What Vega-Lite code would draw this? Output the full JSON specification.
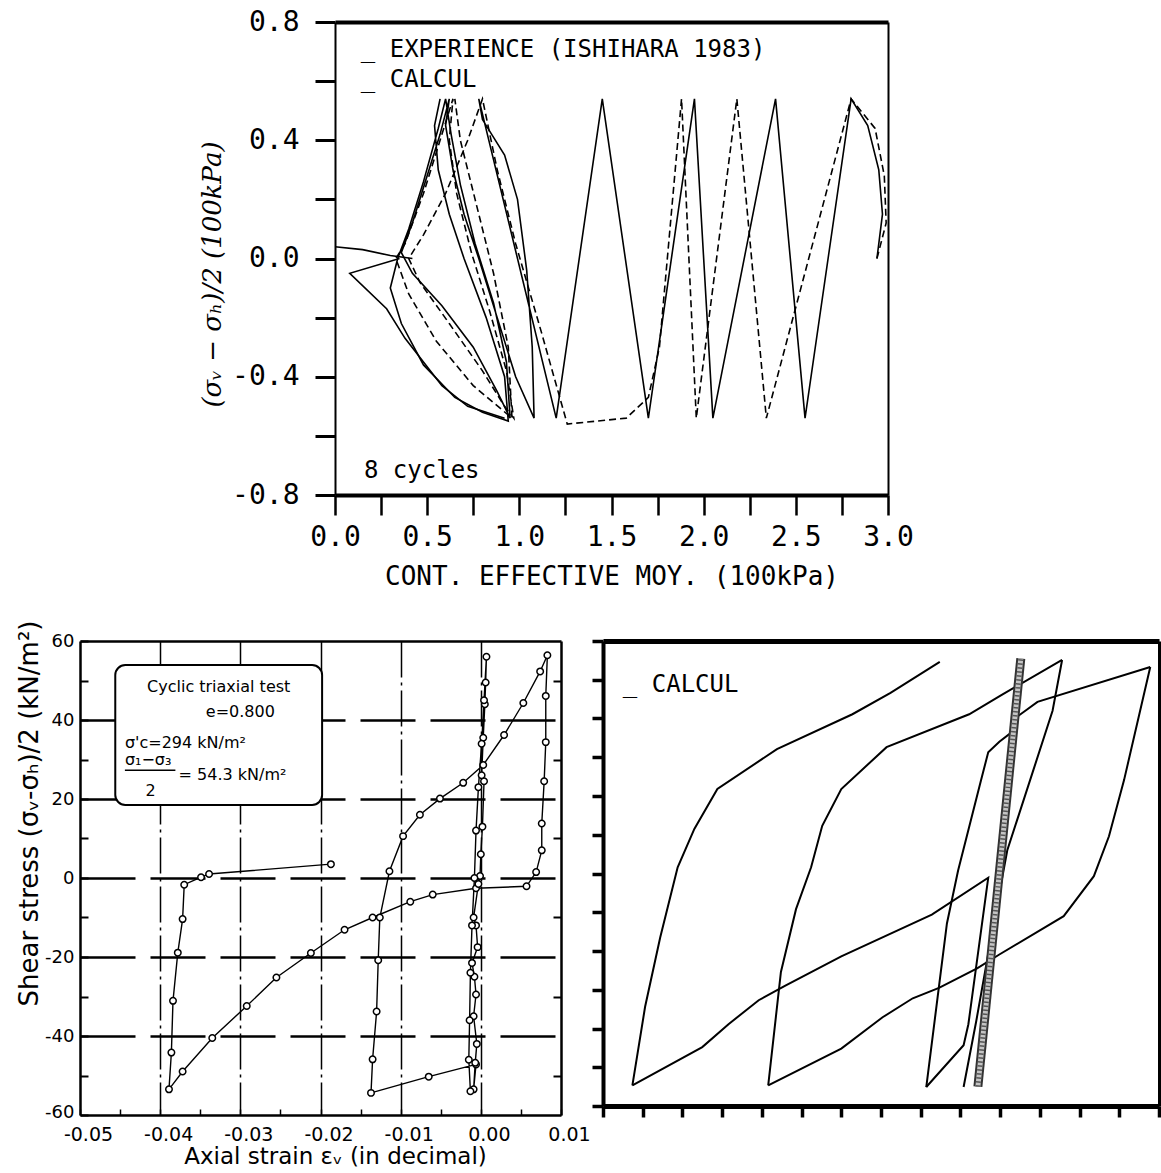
{
  "$schema": "https://vega.github.io/schema/vega-lite/v6.json",
  "background": "white",
  "padding": {"left": 16, "top": 8, "right": 0, "bottom": 0},
  "config": {
    "font": "DejaVu Sans",
    "view": {"stroke": null},
    "axis": {"domainColor": "black", "tickColor": "black", "labelColor": "black", "titleColor": "black", "titleFontWeight": "normal", "grid": false, "labelFlush": false, "labelOverlap": false}
  },
  "datasets": {
    "top": [
      {"s":"e1","t":"exp","o":0,"p":2.94,"q":0},{"s":"e1","t":"exp","o":1,"p":2.97,"q":0.15},{"s":"e1","t":"exp","o":2,"p":2.95,"q":0.30},{"s":"e1","t":"exp","o":3,"p":2.89,"q":0.45},{"s":"e1","t":"exp","o":4,"p":2.80,"q":0.54},
      {"s":"e1","t":"exp","o":5,"p":2.55,"q":-0.54},{"s":"e1","t":"exp","o":6,"p":2.39,"q":0.54},{"s":"e1","t":"exp","o":7,"p":2.05,"q":-0.54},{"s":"e1","t":"exp","o":8,"p":1.95,"q":0.54},{"s":"e1","t":"exp","o":9,"p":1.70,"q":-0.54},
      {"s":"e1","t":"exp","o":10,"p":1.45,"q":0.54},{"s":"e1","t":"exp","o":11,"p":1.20,"q":-0.54},{"s":"e1","t":"exp","o":12,"p":0.78,"q":0.54},{"s":"e1","t":"exp","o":13,"p":0.80,"q":0.47},{"s":"e1","t":"exp","o":14,"p":0.92,"q":0.35},
      {"s":"e1","t":"exp","o":15,"p":0.99,"q":0.20},{"s":"e1","t":"exp","o":16,"p":1.04,"q":-0.04},{"s":"e1","t":"exp","o":17,"p":1.07,"q":-0.30},{"s":"e1","t":"exp","o":18,"p":1.08,"q":-0.54},{"s":"e1","t":"exp","o":19,"p":0.98,"q":-0.40},
      {"s":"e1","t":"exp","o":20,"p":0.88,"q":-0.20},{"s":"e1","t":"exp","o":21,"p":0.78,"q":0.0},{"s":"e1","t":"exp","o":22,"p":0.70,"q":0.15},{"s":"e1","t":"exp","o":23,"p":0.64,"q":0.30},{"s":"e1","t":"exp","o":24,"p":0.60,"q":0.45},
      {"s":"e1","t":"exp","o":25,"p":0.62,"q":0.54},{"s":"e1","t":"exp","o":26,"p":0.57,"q":0.42},{"s":"e1","t":"exp","o":27,"p":0.50,"q":0.28},{"s":"e1","t":"exp","o":28,"p":0.42,"q":0.12},{"s":"e1","t":"exp","o":29,"p":0.36,"q":0.02},
      {"s":"e1","t":"exp","o":30,"p":0.42,"q":-0.05},{"s":"e1","t":"exp","o":31,"p":0.58,"q":-0.16},{"s":"e1","t":"exp","o":32,"p":0.75,"q":-0.30},{"s":"e1","t":"exp","o":33,"p":0.88,"q":-0.45},{"s":"e1","t":"exp","o":34,"p":0.95,"q":-0.54},
      {"s":"e1","t":"exp","o":35,"p":0.93,"q":-0.35},{"s":"e1","t":"exp","o":36,"p":0.86,"q":-0.15},{"s":"e1","t":"exp","o":37,"p":0.76,"q":0.05},{"s":"e1","t":"exp","o":38,"p":0.68,"q":0.25},{"s":"e1","t":"exp","o":39,"p":0.63,"q":0.42},
      {"s":"e1","t":"exp","o":40,"p":0.60,"q":0.54},{"s":"e1","t":"exp","o":41,"p":0.56,"q":0.44},{"s":"e1","t":"exp","o":42,"p":0.48,"q":0.26},{"s":"e1","t":"exp","o":43,"p":0.40,"q":0.10},{"s":"e1","t":"exp","o":44,"p":0.34,"q":0.0},
      {"s":"e1","t":"exp","o":45,"p":0.30,"q":-0.10},{"s":"e1","t":"exp","o":46,"p":0.36,"q":-0.22},{"s":"e1","t":"exp","o":47,"p":0.48,"q":-0.36},{"s":"e1","t":"exp","o":48,"p":0.65,"q":-0.47},{"s":"e1","t":"exp","o":49,"p":0.80,"q":-0.52},
      {"s":"e1","t":"exp","o":50,"p":0.94,"q":-0.55},{"s":"e1","t":"exp","o":51,"p":0.92,"q":-0.40},{"s":"e1","t":"exp","o":52,"p":0.82,"q":-0.20},{"s":"e1","t":"exp","o":53,"p":0.70,"q":0.0},{"s":"e1","t":"exp","o":54,"p":0.62,"q":0.15},
      {"s":"e1","t":"exp","o":55,"p":0.56,"q":0.30},{"s":"e1","t":"exp","o":56,"p":0.54,"q":0.45},{"s":"e1","t":"exp","o":57,"p":0.57,"q":0.54},
      {"s":"e2","t":"exp","o":0,"p":0.35,"q":0.0},{"s":"e2","t":"exp","o":1,"p":0.08,"q":-0.05},{"s":"e2","t":"exp","o":2,"p":0.28,"q":-0.17},{"s":"e2","t":"exp","o":3,"p":0.38,"q":-0.27},{"s":"e2","t":"exp","o":4,"p":0.58,"q":-0.43},{"s":"e2","t":"exp","o":5,"p":0.72,"q":-0.50},{"s":"e2","t":"exp","o":6,"p":0.92,"q":-0.54},
      {"s":"e3","t":"exp","o":0,"p":0.0,"q":0.04},{"s":"e3","t":"exp","o":1,"p":0.15,"q":0.03},{"s":"e3","t":"exp","o":2,"p":0.30,"q":0.01},{"s":"e3","t":"exp","o":3,"p":0.42,"q":0.0},
      {"s":"c1","t":"calc","o":0,"p":2.94,"q":0},{"s":"c1","t":"calc","o":1,"p":2.99,"q":0.12},{"s":"c1","t":"calc","o":2,"p":2.98,"q":0.28},{"s":"c1","t":"calc","o":3,"p":2.93,"q":0.44},{"s":"c1","t":"calc","o":4,"p":2.80,"q":0.54},
      {"s":"c1","t":"calc","o":5,"p":2.34,"q":-0.54},{"s":"c1","t":"calc","o":6,"p":2.18,"q":0.54},{"s":"c1","t":"calc","o":7,"p":1.96,"q":-0.54},{"s":"c1","t":"calc","o":8,"p":1.88,"q":0.54},{"s":"c1","t":"calc","o":9,"p":1.76,"q":-0.30},
      {"s":"c1","t":"calc","o":10,"p":1.70,"q":-0.47},{"s":"c1","t":"calc","o":11,"p":1.58,"q":-0.54},{"s":"c1","t":"calc","o":12,"p":1.26,"q":-0.56},{"s":"c1","t":"calc","o":13,"p":1.12,"q":-0.25},{"s":"c1","t":"calc","o":14,"p":0.98,"q":0.05},
      {"s":"c1","t":"calc","o":15,"p":0.88,"q":0.30},{"s":"c1","t":"calc","o":16,"p":0.80,"q":0.54},{"s":"c1","t":"calc","o":17,"p":0.72,"q":0.40},{"s":"c1","t":"calc","o":18,"p":0.60,"q":0.22},{"s":"c1","t":"calc","o":19,"p":0.48,"q":0.08},
      {"s":"c1","t":"calc","o":20,"p":0.40,"q":0.0},{"s":"c1","t":"calc","o":21,"p":0.46,"q":-0.08},{"s":"c1","t":"calc","o":22,"p":0.62,"q":-0.22},{"s":"c1","t":"calc","o":23,"p":0.80,"q":-0.38},{"s":"c1","t":"calc","o":24,"p":0.92,"q":-0.50},
      {"s":"c1","t":"calc","o":25,"p":0.97,"q":-0.54},{"s":"c1","t":"calc","o":26,"p":0.93,"q":-0.38},{"s":"c1","t":"calc","o":27,"p":0.84,"q":-0.18},{"s":"c1","t":"calc","o":28,"p":0.74,"q":0.02},{"s":"c1","t":"calc","o":29,"p":0.66,"q":0.22},
      {"s":"c1","t":"calc","o":30,"p":0.62,"q":0.40},{"s":"c1","t":"calc","o":31,"p":0.64,"q":0.54},{"s":"c1","t":"calc","o":32,"p":0.58,"q":0.42},{"s":"c1","t":"calc","o":33,"p":0.48,"q":0.22},{"s":"c1","t":"calc","o":34,"p":0.38,"q":0.05},
      {"s":"c1","t":"calc","o":35,"p":0.33,"q":0.0},{"s":"c1","t":"calc","o":36,"p":0.40,"q":-0.12},{"s":"c1","t":"calc","o":37,"p":0.55,"q":-0.28},{"s":"c1","t":"calc","o":38,"p":0.75,"q":-0.43},{"s":"c1","t":"calc","o":39,"p":0.96,"q":-0.54},
      {"s":"c1","t":"calc","o":40,"p":0.94,"q":-0.30},{"s":"c1","t":"calc","o":41,"p":0.86,"q":-0.05},{"s":"c1","t":"calc","o":42,"p":0.76,"q":0.20},{"s":"c1","t":"calc","o":43,"p":0.68,"q":0.40},{"s":"c1","t":"calc","o":44,"p":0.65,"q":0.54}
    ],
    "topText": [
      {"p":0.14,"q":0.681,"label":"_ EXPERIENCE (ISHIHARA 1983)"},
      {"p":0.14,"q":0.580,"label":"_ CALCUL"},
      {"p":0.157,"q":-0.743,"label":"8 cycles"}
    ],
    "bl": [
      {"o":0,"e":-0.0187,"s":3.5},{"o":1,"e":-0.0339,"s":1.0},{"o":2,"e":-0.0349,"s":0.2},{"o":3,"e":-0.0370,"s":-1.7},{"o":4,"e":-0.0372,"s":-10.4},
      {"o":5,"e":-0.0378,"s":-18.9},{"o":6,"e":-0.0384,"s":-31.1},{"o":7,"e":-0.0386,"s":-44.2},{"o":8,"e":-0.0389,"s":-53.5},{"o":9,"e":-0.0372,"s":-49.0},
      {"o":10,"e":-0.0335,"s":-40.5},{"o":11,"e":-0.0292,"s":-32.4},{"o":12,"e":-0.0255,"s":-25.2},{"o":13,"e":-0.0212,"s":-19.0},{"o":14,"e":-0.0170,"s":-13.1},
      {"o":15,"e":-0.0135,"s":-10.0},{"o":16,"e":-0.0088,"s":-6.0},{"o":17,"e":-0.0060,"s":-4.2},{"o":18,"e":-0.0006,"s":-2.6},{"o":19,"e":0.0057,"s":-2.1},
      {"o":20,"e":0.0069,"s":1.5},{"o":21,"e":0.0076,"s":7.0},{"o":22,"e":0.0076,"s":13.8},{"o":23,"e":0.0079,"s":24.5},{"o":24,"e":0.0081,"s":34.4},
      {"o":25,"e":0.0081,"s":46.1},{"o":26,"e":0.0083,"s":56.4},{"o":27,"e":0.0074,"s":52.3},{"o":28,"e":0.0053,"s":44.3},{"o":29,"e":0.0029,"s":36.2},
      {"o":30,"e":0.0003,"s":28.6},{"o":31,"e":-0.0022,"s":24.1},{"o":32,"e":-0.0051,"s":20.1},{"o":33,"e":-0.0076,"s":16.0},{"o":34,"e":-0.0097,"s":10.6},
      {"o":35,"e":-0.0114,"s":1.7},{"o":36,"e":-0.0126,"s":-10.0},{"o":37,"e":-0.0128,"s":-20.8},{"o":38,"e":-0.0130,"s":-33.8},{"o":39,"e":-0.0135,"s":-45.9},
      {"o":40,"e":-0.0137,"s":-54.4},{"o":41,"e":-0.0065,"s":-50.3},{"o":42,"e":-0.0006,"s":-47.2},{"o":43,"e":-0.0009,"s":-53.5},{"o":44,"e":-0.0007,"s":-46.8},
      {"o":45,"e":-0.0005,"s":-42.0},{"o":46,"e":-0.0009,"s":-35.0},{"o":47,"e":-0.0006,"s":-29.5},{"o":48,"e":-0.0008,"s":-25.0},{"o":49,"e":-0.0011,"s":-21.5},
      {"o":50,"e":-0.0004,"s":-17.5},{"o":51,"e":-0.0006,"s":-12.0},{"o":52,"e":-0.0009,"s":-10.0},{"o":53,"e":-0.0003,"s":-1.5},{"o":54,"e":-0.0001,"s":0.5},
      {"o":55,"e":0.0000,"s":6.0},{"o":56,"e":0.0002,"s":13.0},{"o":57,"e":0.0004,"s":24.5},{"o":58,"e":0.0001,"s":26.0},{"o":59,"e":0.0003,"s":35.5},
      {"o":60,"e":0.0005,"s":44.0},{"o":61,"e":0.0006,"s":49.5},{"o":62,"e":0.0007,"s":56.0},{"o":63,"e":0.0004,"s":45.0},{"o":64,"e":0.0001,"s":34.0},
      {"o":65,"e":-0.0003,"s":23.0},{"o":66,"e":-0.0006,"s":12.0},{"o":67,"e":-0.0008,"s":0.0},{"o":68,"e":-0.0011,"s":-12.0},{"o":69,"e":-0.0013,"s":-24.0},
      {"o":70,"e":-0.0014,"s":-36.0},{"o":71,"e":-0.0015,"s":-46.0},{"o":72,"e":-0.0013,"s":-54.0}
    ],
    "blText": [
      {"e":-0.0327,"s":47.0,"label":"Cyclic triaxial test","a":"c"},
      {"e":-0.0300,"s":40.7,"label":"e=0.800","a":"c"},
      {"e":-0.0444,"s":33.0,"label":"σ'c=294 kN/m²","a":"l"},
      {"e":-0.0444,"s":28.6,"label":"σ₁−σ₃","a":"l"},
      {"e":-0.0412,"s":20.8,"label":"2","a":"c"},
      {"e":-0.0377,"s":24.7,"label":"= 54.3 kN/m²","a":"l"}
    ],
    "blBox": [{"e1":-0.0456,"e2":-0.0198,"s1":53.9,"s2":18.5}],
    "blBar": [{"e1":-0.0444,"e2":-0.0381,"s":27.3}],
    "br": [
      {"k":1,"o":0,"e":-0.0463,"s":-54.7},{"k":1,"o":1,"e":-0.0447,"s":-34.4},{"k":1,"o":2,"e":-0.0428,"s":-16.5},{"k":1,"o":3,"e":-0.0406,"s":1.6},{"k":1,"o":4,"e":-0.0385,"s":11.5},
      {"k":1,"o":5,"e":-0.0356,"s":21.8},{"k":1,"o":6,"e":-0.0281,"s":32.1},{"k":1,"o":7,"e":-0.0186,"s":41.1},{"k":1,"o":8,"e":-0.0138,"s":46.6},{"k":1,"o":9,"e":-0.0076,"s":54.6},
      {"k":2,"o":0,"e":-0.0463,"s":-54.7},{"k":2,"o":1,"e":-0.0375,"s":-44.8},{"k":2,"o":2,"e":-0.0342,"s":-38.9},{"k":2,"o":3,"e":-0.0304,"s":-32.7},{"k":2,"o":4,"e":-0.0271,"s":-29.0},
      {"k":2,"o":5,"e":-0.0200,"s":-21.4},{"k":2,"o":6,"e":-0.0086,"s":-10.6},{"k":2,"o":7,"e":-0.0015,"s":-1.1},{"k":2,"o":8,"e":-0.0040,"s":-38.9},{"k":2,"o":9,"e":-0.0046,"s":-44.3},{"k":2,"o":10,"e":-0.0093,"s":-55.1},
      {"k":3,"o":0,"e":-0.0093,"s":-55.1},{"k":3,"o":1,"e":-0.0067,"s":-12.9},{"k":3,"o":2,"e":-0.0053,"s":0.7},{"k":3,"o":3,"e":-0.0024,"s":24.1},{"k":3,"o":4,"e":-0.0015,"s":31.3},
      {"k":3,"o":5,"e":-0.0001,"s":34.0},{"k":3,"o":6,"e":0.0016,"s":36.7},{"k":3,"o":7,"e":0.0023,"s":40.7},{"k":3,"o":8,"e":0.0047,"s":44.3},{"k":3,"o":9,"e":0.0189,"s":53.3},
      {"k":4,"o":0,"e":0.0189,"s":53.3},{"k":4,"o":1,"e":0.0156,"s":24.1},{"k":4,"o":2,"e":0.0137,"s":9.6},{"k":4,"o":3,"e":0.0118,"s":-0.7},{"k":4,"o":4,"e":0.0080,"s":-11.0},
      {"k":4,"o":5,"e":-0.0001,"s":-20.9},{"k":4,"o":6,"e":-0.0029,"s":-24.5},{"k":4,"o":7,"e":-0.0077,"s":-29.5},{"k":4,"o":8,"e":-0.0110,"s":-32.2},{"k":4,"o":9,"e":-0.0148,"s":-37.1},
      {"k":4,"o":10,"e":-0.0200,"s":-45.2},{"k":4,"o":11,"e":-0.0292,"s":-54.7},
      {"k":5,"o":0,"e":-0.0292,"s":-54.7},{"k":5,"o":1,"e":-0.0276,"s":-25.4},{"k":5,"o":2,"e":-0.0257,"s":-9.2},{"k":5,"o":3,"e":-0.0238,"s":1.6},{"k":5,"o":4,"e":-0.0224,"s":12.3},
      {"k":5,"o":5,"e":-0.0200,"s":21.8},{"k":5,"o":6,"e":-0.0143,"s":32.6},{"k":5,"o":7,"e":-0.0039,"s":41.1},{"k":5,"o":8,"e":0.0002,"s":46.1},{"k":5,"o":9,"e":0.0078,"s":55.1},
      {"k":6,"o":0,"e":0.0078,"s":55.1},{"k":6,"o":1,"e":0.0066,"s":42.0},{"k":6,"o":2,"e":0.0042,"s":26.8},{"k":6,"o":3,"e":0.0009,"s":6.0},{"k":6,"o":4,"e":-0.0010,"s":-15.0},
      {"k":6,"o":5,"e":-0.0030,"s":-38.0},{"k":6,"o":6,"e":-0.0046,"s":-55.1}
    ],
    "brBand": [{"o":0,"e":-0.0028,"s":-55.0},{"o":1,"e":0.0026,"s":55.5}],
    "brText": [{"e":-0.0475,"s":46.9,"label":"_ CALCUL"}]
  },
  "spacing": 26,
  "vconcat": [
    {
      "bounds": "flush",
      "spacing": 0,
      "hconcat": [
        {"width": 255, "height": 473, "view": {"fill": "white", "stroke": null}, "data": {"values": []}, "mark": "point"},
        {
          "width": 553,
          "height": 473,
          "layer": [
            {
              "mark": {"type": "rule", "color": "black", "strokeWidth": 2.5},
              "encoding": {"y": {"datum": 0, "type": "quantitative", "scale": {"domain": [-0.8, 0.8], "nice": false, "zero": false}, "axis": null}}
            },
            {
              "data": {"name": "top"},
              "transform": [{"filter": "datum.t == 'exp'"}],
              "mark": {"type": "line", "color": "black", "strokeWidth": 1.6},
              "encoding": {
                "x": {"field": "p", "type": "quantitative", "scale": {"domain": [0, 3], "nice": false, "zero": false},
                  "axis": {"orient": "bottom", "values": [0,0.25,0.5,0.75,1,1.25,1.5,1.75,2,2.25,2.5,2.75,3],
                    "labelExpr": "round(datum.value*4) % 2 == 0 ? format(datum.value, '.1f') : ''",
                    "tickSize": 20, "tickWidth": 2.5, "domainWidth": 4,
                    "labelFont": "DejaVu Sans Mono", "labelFontSize": 28, "labelPadding": 8,
                    "title": "CONT. EFFECTIVE MOY.  (100kPa)", "titleFont": "DejaVu Sans Mono", "titleFontSize": 26, "titlePadding": 12}},
                "y": {"field": "q", "type": "quantitative", "scale": {"domain": [-0.8, 0.8], "nice": false, "zero": false},
                  "axis": {"orient": "left", "values": [-0.8,-0.6,-0.4,-0.2,0,0.2,0.4,0.6,0.8],
                    "labelExpr": "abs(round(datum.value*5)) % 2 == 0 ? (datum.value < -0.01 ? '-' : '') + format(abs(datum.value), '.1f') : ''",
                    "tickSize": 20, "tickWidth": 3, "domainWidth": 2,
                    "labelFont": "DejaVu Sans Mono", "labelFontSize": 28, "labelPadding": 16,
                    "title": "(σᵥ − σₕ)/2     (100kPa)", "titleFont": "DejaVu Serif", "titleFontStyle": "italic", "titleFontSize": 26, "titlePadding": 6, "titleY": 252}},
                "detail": {"field": "s"},
                "order": {"field": "o"}
              }
            },
            {
              "data": {"name": "top"},
              "transform": [{"filter": "datum.t == 'calc'"}],
              "mark": {"type": "line", "color": "black", "strokeWidth": 1.6, "strokeDash": [7, 4]},
              "encoding": {
                "x": {"field": "p", "type": "quantitative", "scale": {"domain": [0, 3], "nice": false, "zero": false}, "axis": null},
                "y": {"field": "q", "type": "quantitative", "scale": {"domain": [-0.8, 0.8], "nice": false, "zero": false}, "axis": null},
                "detail": {"field": "s"},
                "order": {"field": "o"}
              }
            },
            {
              "data": {"name": "topText"},
              "mark": {"type": "text", "font": "DejaVu Sans Mono", "fontSize": 24, "align": "left", "baseline": "alphabetic", "color": "black"},
              "encoding": {
                "x": {"field": "p", "type": "quantitative", "scale": {"domain": [0, 3], "nice": false, "zero": false},
                  "axis": {"orient": "top", "labels": false, "ticks": false, "domainWidth": 4, "title": null}},
                "y": {"field": "q", "type": "quantitative", "scale": {"domain": [-0.8, 0.8], "nice": false, "zero": false},
                  "axis": {"orient": "right", "labels": false, "ticks": false, "domainWidth": 2, "title": null}},
                "text": {"field": "label"}
              }
            }
          ]
        }
      ]
    },
    {
      "bounds": "flush",
      "spacing": 42,
      "hconcat": [
        {
          "width": 481,
          "height": 474,
          "layer": [
            {
              "data": {"name": "blBox"},
              "mark": {"type": "rect", "fill": "white", "stroke": "black", "strokeWidth": 2, "cornerRadius": 10},
              "encoding": {
                "x": {"field": "e1", "type": "quantitative", "scale": {"domain": [-0.05, 0.01], "nice": false, "zero": false}, "axis": null},
                "x2": {"field": "e2"},
                "y": {"field": "s1", "type": "quantitative", "scale": {"domain": [-60, 60], "nice": false, "zero": false}, "axis": null},
                "y2": {"field": "s2"}
              }
            },
            {
              "data": {"name": "bl"},
              "mark": {"type": "line", "color": "black", "strokeWidth": 1.4},
              "encoding": {
                "x": {"field": "e", "type": "quantitative", "scale": {"domain": [-0.05, 0.01], "nice": false, "zero": false},
                  "axis": {"orient": "bottom", "values": [-0.05,-0.045,-0.04,-0.035,-0.03,-0.025,-0.02,-0.015,-0.01,-0.005,0,0.005,0.01],
                    "labelExpr": "abs(round(datum.value*200)) % 2 == 0 ? (datum.value < -0.0001 ? '-' : '') + format(abs(datum.value), '.2f') : ''",
                    "tickSize": -6, "tickWidth": 1.5, "domainWidth": 2.5,
                    "grid": true, "gridColor": "black", "gridWidth": 1.5, "gridDash": [36, 5, 3, 5],
                    "gridOpacity": {"condition": {"test": "abs(round(datum.value*200)) % 2 == 0 && datum.value > -0.049 && datum.value < 0.009", "value": 1}, "value": 0},
                    "labelFontSize": 19, "labelPadding": 16, "labelOffset": 8,
                    "title": "Axial strain    εᵥ  (in decimal)", "titleFontSize": 23, "titlePadding": 1, "titleX": 255}},
                "y": {"field": "s", "type": "quantitative", "scale": {"domain": [-60, 60], "nice": false, "zero": false},
                  "axis": {"orient": "left", "values": [-60,-50,-40,-30,-20,-10,0,10,20,30,40,50,60],
                    "labelExpr": "abs(datum.value) % 20 == 0 ? (datum.value < 0 ? '-' : '') + abs(datum.value) : ''",
                    "labelOffset": {"condition": {"test": "datum.value == -60", "value": -3}, "value": 0},
                    "tickSize": -8, "tickWidth": 2, "domainWidth": 2.5,
                    "grid": true, "gridColor": "black", "gridWidth": 2.5, "gridDash": [55, 15],
                    "gridOpacity": {"condition": {"test": "abs(datum.value) % 20 == 0 && abs(datum.value) < 60", "value": 1}, "value": 0},
                    "labelFontSize": 18, "labelPadding": 14,
                    "title": "Shear stress (σᵥ-σₕ)/2  (kN/m²)", "titleFontSize": 26, "titlePadding": 2, "titleY": 172}},
                "order": {"field": "o"}
              }
            },
            {
              "data": {"name": "bl"},
              "mark": {"type": "point", "shape": "circle", "filled": true, "fill": "white", "stroke": "black", "strokeWidth": 1.5, "size": 42, "opacity": 1},
              "encoding": {
                "x": {"field": "e", "type": "quantitative", "scale": {"domain": [-0.05, 0.01], "nice": false, "zero": false},
                  "axis": {"orient": "top", "labels": false, "ticks": false, "domainWidth": 2.5, "title": null}},
                "y": {"field": "s", "type": "quantitative", "scale": {"domain": [-60, 60], "nice": false, "zero": false},
                  "axis": {"orient": "right", "values": [-50,-30,-10,10,30,50], "labels": false, "tickSize": -8, "tickWidth": 2, "domainWidth": 2.5, "title": null}}
              }
            },
            {
              "data": {"name": "blText"},
              "transform": [{"filter": "datum.a == 'c'"}],
              "mark": {"type": "text", "font": "DejaVu Sans", "fontSize": 16, "align": "center", "baseline": "alphabetic", "color": "black"},
              "encoding": {
                "x": {"field": "e", "type": "quantitative", "scale": {"domain": [-0.05, 0.01], "nice": false, "zero": false}, "axis": null},
                "y": {"field": "s", "type": "quantitative", "scale": {"domain": [-60, 60], "nice": false, "zero": false}, "axis": null},
                "text": {"field": "label"}
              }
            },
            {
              "data": {"name": "blText"},
              "transform": [{"filter": "datum.a == 'l'"}],
              "mark": {"type": "text", "font": "DejaVu Sans", "fontSize": 16, "align": "left", "baseline": "alphabetic", "color": "black"},
              "encoding": {
                "x": {"field": "e", "type": "quantitative", "scale": {"domain": [-0.05, 0.01], "nice": false, "zero": false}, "axis": null},
                "y": {"field": "s", "type": "quantitative", "scale": {"domain": [-60, 60], "nice": false, "zero": false}, "axis": null},
                "text": {"field": "label"}
              }
            },
            {
              "data": {"name": "blBar"},
              "mark": {"type": "rule", "color": "black", "strokeWidth": 1.5},
              "encoding": {
                "x": {"field": "e1", "type": "quantitative", "scale": {"domain": [-0.05, 0.01], "nice": false, "zero": false}, "axis": null},
                "x2": {"field": "e2"},
                "y": {"field": "s", "type": "quantitative", "scale": {"domain": [-60, 60], "nice": false, "zero": false}, "axis": null}
              }
            }
          ]
        },
        {
          "width": 556,
          "height": 465,
          "layer": [
            {
              "mark": {"type": "rule", "color": "black", "strokeWidth": 2.5},
              "encoding": {"y": {"datum": 0, "type": "quantitative", "scale": {"domain": [-60, 60], "nice": false, "zero": false}, "axis": null}}
            },
            {
              "mark": {"type": "rule", "color": "black", "strokeWidth": 1.5},
              "encoding": {"x": {"datum": 0, "type": "quantitative", "scale": {"domain": [-0.05, 0.02], "nice": false, "zero": false}, "axis": null}}
            },
            {
              "data": {"name": "br"},
              "mark": {"type": "line", "color": "black", "strokeWidth": 2},
              "encoding": {
                "x": {"field": "e", "type": "quantitative", "scale": {"domain": [-0.05, 0.02], "nice": false, "zero": false},
                  "axis": {"orient": "bottom", "values": [-0.05,-0.045,-0.04,-0.035,-0.03,-0.025,-0.02,-0.015,-0.01,-0.005,0,0.005,0.01,0.015,0.02],
                    "labels": false, "tickSize": 11, "tickWidth": 3.5, "domainWidth": 5, "title": null}},
                "y": {"field": "s", "type": "quantitative", "scale": {"domain": [-60, 60], "nice": false, "zero": false},
                  "axis": {"orient": "left", "values": [-60,-50,-40,-30,-20,-10,0,10,20,30,40,50,60],
                    "labels": false, "tickSize": 11, "tickWidth": 3.5, "domainWidth": 4, "title": null}},
                "detail": {"field": "k"},
                "order": {"field": "o"}
              }
            },
            {
              "data": {"name": "brBand"},
              "mark": {"type": "line", "color": "#333333", "strokeWidth": 9},
              "encoding": {
                "x": {"field": "e", "type": "quantitative", "scale": {"domain": [-0.05, 0.02], "nice": false, "zero": false}, "axis": null},
                "y": {"field": "s", "type": "quantitative", "scale": {"domain": [-60, 60], "nice": false, "zero": false}, "axis": null},
                "order": {"field": "o"}
              }
            },
            {
              "data": {"name": "brBand"},
              "mark": {"type": "line", "color": "#c4c4c4", "strokeWidth": 5},
              "encoding": {
                "x": {"field": "e", "type": "quantitative", "scale": {"domain": [-0.05, 0.02], "nice": false, "zero": false}, "axis": null},
                "y": {"field": "s", "type": "quantitative", "scale": {"domain": [-60, 60], "nice": false, "zero": false}, "axis": null},
                "order": {"field": "o"}
              }
            },
            {
              "data": {"name": "brBand"},
              "mark": {"type": "line", "color": "#555555", "strokeWidth": 5, "strokeDash": [1.5, 2.5]},
              "encoding": {
                "x": {"field": "e", "type": "quantitative", "scale": {"domain": [-0.05, 0.02], "nice": false, "zero": false}, "axis": null},
                "y": {"field": "s", "type": "quantitative", "scale": {"domain": [-60, 60], "nice": false, "zero": false}, "axis": null},
                "order": {"field": "o"}
              }
            },
            {
              "data": {"name": "brText"},
              "mark": {"type": "text", "font": "DejaVu Sans Mono", "fontSize": 24, "align": "left", "baseline": "alphabetic", "color": "black"},
              "encoding": {
                "x": {"field": "e", "type": "quantitative", "scale": {"domain": [-0.05, 0.02], "nice": false, "zero": false},
                  "axis": {"orient": "top", "labels": false, "ticks": false, "domainWidth": 5, "title": null}},
                "y": {"field": "s", "type": "quantitative", "scale": {"domain": [-60, 60], "nice": false, "zero": false},
                  "axis": {"orient": "right", "labels": false, "ticks": false, "domainWidth": 3, "title": null}},
                "text": {"field": "label"}
              }
            }
          ]
        }
      ]
    }
  ]
}
